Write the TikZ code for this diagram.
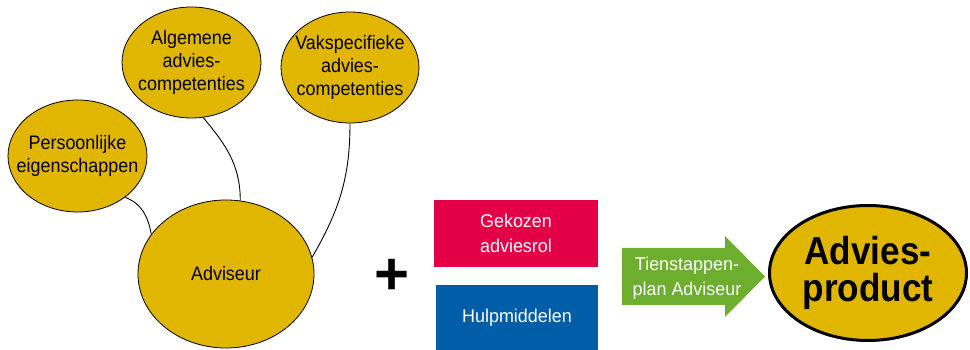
\documentclass[tikz,border=0pt]{standalone}
\usepackage{fontspec}
\setmainfont[FakeStretch=0.92]{Liberation Sans}
\newfontfamily\boxfont[FakeStretch=0.97]{Liberation Sans}
\newfontfamily\bigfont[FakeStretch=0.9]{Liberation Sans}
\newfontfamily\plainfont{Liberation Sans}
\usetikzlibrary{shapes.geometric}
\definecolor{gold}{RGB}{224,182,0}
\definecolor{boxred}{RGB}{228,0,70}
\definecolor{boxblue}{RGB}{0,94,168}
\definecolor{arrowgreen}{RGB}{109,174,46}
\tikzset{
  goldell/.style={ellipse, draw=black, line width=0.8pt, fill=gold, inner sep=0pt},
  elltext/.style={align=center, font=\fontsize{19.5}{23}\selectfont, text=black},
  colbox/.style={rectangle, inner sep=0pt, draw=none, align=center, text=white,
     font=\boxfont\fontsize{18.5}{25.5}\selectfont},
  link/.style={draw=black, line width=0.9pt}
}
\begin{document}
\begin{tikzpicture}[x=1pt,y=1pt]
\useasboundingbox (0,0) rectangle (970,350);
% gold ellipses
\node[goldell, minimum width=139pt, minimum height=112pt,
  label={[elltext]center:Persoonlijke\\eigenschappen}] (pers) at (77.5,194) {};
\node[goldell, minimum width=139pt, minimum height=111pt,
  label={[elltext]center:Algemene\\advies-\\competenties}] (alg) at (191.5,287.5) {};
\node[goldell, minimum width=138pt, minimum height=111pt,
  label={[elltext]center:Vakspecifieke\\advies-\\competenties}] (vak) at (350,282.5) {};
\node[goldell, minimum width=176pt, minimum height=148pt,
  label={[elltext]center:Adviseur}] (adv) at (226,76) {};
% connectors
\draw[link] (pers.-41) to[out=-20, in=100] (adv.152);
\draw[link] (alg.-78) to[out=-50, in=90] (adv.79);
\draw[link] (vak.-90) to[out=-90, in=60] (adv.11);
% plus
\node[font=\plainfont\bfseries\fontsize{60}{60}\selectfont, inner sep=0pt] (plus) at (392,73) {+};
% boxes
\node[colbox, fill=boxred, minimum width=164pt, minimum height=67pt] (rol) at (516,116.5) {Gekozen\\adviesrol};
\node[colbox, fill=boxblue, minimum width=162pt, minimum height=65pt] (hulp) at (517,32.5) {Hulpmiddelen};
% green arrow
\fill[arrowgreen] (622,102) -- (725,102) -- (725,114) -- (765,73.5) -- (725,33) -- (725,45) -- (622,45) -- cycle;
\node[colbox, fill=none, font=\boxfont\fontsize{18.5}{25}\selectfont] (plan) at (687,72) {Tienstappen-\\plan Adviseur};
% advies product
\node[ellipse, draw=black, line width=3pt, fill=gold, inner sep=0pt,
  minimum width=197pt, minimum height=135pt,
  label={[align=center, font=\bigfont\bfseries\fontsize{39}{37}\selectfont]center:Advies-\\product}] (prod) at (868,77) {};
\end{tikzpicture}
\end{document}
